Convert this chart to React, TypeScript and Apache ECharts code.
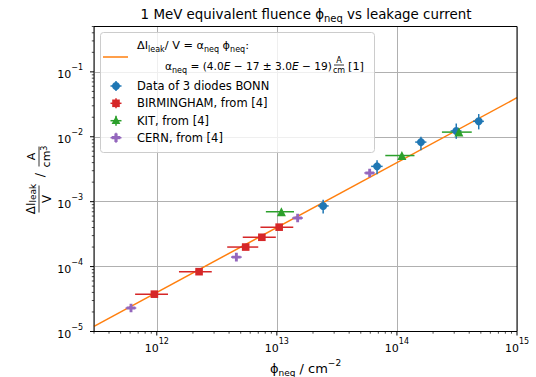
import React, { useEffect, useRef } from "react";
import * as echarts from "echarts";

const FONT = "DejaVu Sans";
const X_MIN = 3e11;
const X_MAX = 1e15;
const Y_MIN = 1e-5;
const Y_MAX = 0.5;

// fit line alpha_neq * phi (endpoints)
const fitX = [3e11, 1e15];
const fitY = [1.2e-5, 4.0e-2];

// Data of 3 diodes BONN
const bonnX = [2.43e13, 6.83e13, 1.585e14, 3.12e14, 4.8e14];
const bonnY = [8.6e-4, 3.5e-3, 8.28e-3, 1.23e-2, 1.73e-2];
const bonnXLo = [2.2e13, 6.1e13, 1.42e14, 2.8e14, 4.3e14];
const bonnXHi = [2.7e13, 7.6e13, 1.76e14, 3.45e14, 5.3e14];
const bonnYLo = [6.6e-4, 2.64e-3, 6.2e-3, 9.3e-3, 1.3e-2];
const bonnYHi = [1.07e-3, 4.35e-3, 1.0e-2, 1.6e-2, 2.24e-2];

// BIRMINGHAM
const birX = [9.55e11, 2.25e12, 5.5e12, 7.5e12, 1.045e13];
const birY = [3.76e-5, 8.35e-5, 2.0e-4, 2.83e-4, 4.05e-4];
const birXLo = [6.6e11, 1.53e12, 3.86e12, 5.2e12, 7.3e12];
const birXHi = [1.24e12, 2.87e12, 7.0e12, 9.8e12, 1.37e13];

// KIT
const kitX = [1.09e13, 1.1e14, 3.28e14];
const kitY = [7.0e-4, 5.14e-3, 1.18e-2];
const kitXLo = [8.1e12, 8.0e13, 2.37e14];
const kitXHi = [1.39e13, 1.4e14, 4.2e14];

// CERN
const cernX = [6.1e11, 4.6e12, 1.49e13, 5.93e13];
const cernY = [2.3e-5, 1.4e-4, 5.6e-4, 2.77e-3];
const cernXLo = [5.5e11, 4.15e12, 1.34e13, 5.35e13];
const cernXHi = [6.75e11, 5.1e12, 1.65e13, 6.55e13];
const cernYLo = [2.05e-5, 1.25e-4, 5.0e-4, 2.47e-3];
const cernYHi = [2.58e-5, 1.57e-4, 6.28e-4, 3.1e-3];

const C = {
  blue: "#1f77b4",
  orange: "#ff7f0e",
  green: "#2ca02c",
  red: "#d62728",
  purple: "#9467bd",
};

const PLUS = "path://M3,0H6V3H9V6H6V9H3V6H0V3H3Z";

function zip(a: number[], b: number[]) {
  return a.map((v, i) => [v, b[i]]);
}
function errRows(
  x: number[],
  y: number[],
  xlo?: number[],
  xhi?: number[],
  ylo?: number[],
  yhi?: number[]
) {
  return x.map((v, i) => [
    v,
    y[i],
    xlo ? xlo[i] : v,
    xhi ? xhi[i] : v,
    ylo ? ylo[i] : y[i],
    yhi ? yhi[i] : y[i],
  ]);
}

function errSeries(name: string, rows: number[][], color: string) {
  return {
    type: "custom",
    name,
    data: rows,
    encode: { x: 0, y: 1 },
    z: 3,
    silent: true,
    renderItem: (params: any, api: any) => {
      const x = api.value(0);
      const y = api.value(1);
      const xl = api.value(2);
      const xh = api.value(3);
      const yl = api.value(4);
      const yh = api.value(5);
      const children: any[] = [];
      if (xh > xl) {
        const a = api.coord([xl, y]);
        const b = api.coord([xh, y]);
        children.push({
          type: "line",
          shape: { x1: a[0], y1: a[1], x2: b[0], y2: b[1] },
          style: { stroke: color, lineWidth: 1.5 },
        });
      }
      if (yh > yl) {
        const a = api.coord([x, yl]);
        const b = api.coord([x, yh]);
        children.push({
          type: "line",
          shape: { x1: a[0], y1: a[1], x2: b[0], y2: b[1] },
          style: { stroke: color, lineWidth: 1.5 },
        });
      }
      return { type: "group", children };
    },
  };
}

function richFor(size: number) {
  const small = Math.round(size * 0.72);
  return {
    s: {
      fontSize: small,
      fontFamily: FONT,
      fill: "#000",
      color: "#000",
      verticalAlign: "bottom",
      lineHeight: small + 1,
    },
    p: {
      fontSize: small,
      fontFamily: FONT,
      fill: "#000",
      color: "#000",
      verticalAlign: "top",
      lineHeight: small + 1,
    },
    i: {
      fontSize: size,
      fontStyle: "italic",
      fontFamily: FONT,
      fill: "#000",
      color: "#000",
      lineHeight: size + 6,
    },
  };
}

function txt(x: number, y: number, text: string, size: number, align = "left", va = "middle", extra: any = {}) {
  return {
    type: "text",
    x,
    y,
    z: 101,
    silent: true,
    style: {
      text,
      fontFamily: FONT,
      fontSize: size,
      fill: "#000",
      align,
      verticalAlign: va,
      textAlign: align,
      textVerticalAlign: va,
      lineHeight: size + 6,
      rich: richFor(size),
      ...extra,
    },
  };
}

function hline(x1: number, x2: number, y: number, color: string, w = 1.5) {
  return {
    type: "line",
    z: 102,
    silent: true,
    shape: { x1, y1: y, x2, y2: y },
    style: { stroke: color, lineWidth: w },
  };
}
function vline(x: number, y1: number, y2: number, color: string, w = 1.5) {
  return {
    type: "line",
    z: 102,
    silent: true,
    shape: { x1: x, y1, x2: x, y2 },
    style: { stroke: color, lineWidth: w },
  };
}

function expLabel(v: number) {
  const e = Math.round(Math.log10(v));
  const s = e < 0 ? "\u2212" + Math.abs(e) : String(e);
  return "{b|10}{s|" + s + "}";
}

const tickRich = {
  b: { fontSize: 11, fontFamily: FONT, color: "#000", lineHeight: 16, verticalAlign: "bottom" },
  s: { fontSize: 8, fontFamily: FONT, color: "#000", lineHeight: 10, verticalAlign: "top" },
};

const decoSeries = {
  type: "custom",
  data: [[1e13, 1e-3]],
  encode: { x: 0, y: 1 },
  z: 10,
  silent: true,
  clip: false,
  renderItem: (params: any, api: any) => {
    const cs = params.coordSys;
    const L = cs.x;
    const T = cs.y;
    const B = cs.y + cs.height;
    const ch: any[] = [];
    ch.push({
      type: "rect",
      shape: { x: L, y: T, width: cs.width, height: cs.height },
      style: { fill: "none", stroke: "#000", lineWidth: 1 },
    });
    for (let e = 11; e <= 15; e++) {
      for (let k = 1; k <= 9; k++) {
        const v = k * Math.pow(10, e);
        if (v < X_MIN * 0.999 || v > X_MAX * 1.001) continue;
        const px = api.coord([v, 1e-3])[0];
        const len = k === 1 ? 4 : 2.2;
        ch.push({
          type: "line",
          shape: { x1: px, y1: B, x2: px, y2: B + len },
          style: { stroke: "#000", lineWidth: k === 1 ? 1 : 0.7 },
        });
      }
    }
    for (let e = -5; e <= 0; e++) {
      for (let k = 1; k <= 9; k++) {
        const v = k * Math.pow(10, e);
        if (v < Y_MIN * 0.999 || v > Y_MAX * 1.001) continue;
        const py = api.coord([1e13, v])[1];
        const len = k === 1 ? 4 : 2.2;
        ch.push({
          type: "line",
          shape: { x1: L, y1: py, x2: L - len, y2: py },
          style: { stroke: "#000", lineWidth: k === 1 ? 1 : 0.7 },
        });
      }
    }
    return { type: "group", children: ch };
  },
};

function legendGraphics() {
  const els: any[] = [];
  els.push({
    type: "rect",
    z: 100,
    silent: true,
    shape: { x: 100.5, y: 32.5, width: 274, height: 120, r: 3 },
    style: { fill: "rgba(255,255,255,0.8)", stroke: "#cccccc", lineWidth: 1 },
  });
  els.push(hline(103, 128, 57, C.orange, 1.5));
  els.push(txt(137, 45, "\u0394I{s|leak}/ V = \u03b1{s|neq} \u03d5{s|neq}:", 11.3));
  els.push(txt(165, 66, "\u03b1{s|neq} = (4.0{i|E} \u2212 17 \u00b1 3.0{i|E} \u2212 19)", 10.6));
  els.push(txt(339, 64.5, "A", 8, "center", "bottom", { lineHeight: 9 }));
  els.push(hline(334, 344, 65, "#000", 0.8));
  els.push(txt(339, 65.5, "cm", 8, "center", "top", { lineHeight: 9 }));
  els.push(txt(348, 66, "[1]", 11.3));

  const mx = 116;
  const rows = [
    { y: 86, color: C.blue, label: "Data of 3 diodes BONN", kind: "circle" },
    { y: 103.3, color: C.red, label: "BIRMINGHAM, from [4]", kind: "rect" },
    { y: 120.7, color: C.green, label: "KIT, from [4]", kind: "tri" },
    { y: 137.7, color: C.purple, label: "CERN, from [4]", kind: "plus" },
  ];
  rows.forEach((r) => {
    els.push(hline(mx - 5.5, mx + 5.5, r.y, r.color));
    els.push(vline(mx, r.y - 5, r.y + 5, r.color));
    if (r.kind === "circle") {
      els.push({ type: "circle", z: 103, silent: true, shape: { cx: mx, cy: r.y, r: 4 }, style: { fill: r.color } });
    } else if (r.kind === "rect") {
      els.push({ type: "rect", z: 103, silent: true, shape: { x: mx - 3.8, y: r.y - 3.8, width: 7.6, height: 7.6 }, style: { fill: r.color } });
    } else if (r.kind === "tri") {
      els.push({
        type: "polygon",
        z: 103,
        silent: true,
        shape: { points: [[mx, r.y - 4.6], [mx + 4.4, r.y + 3.4], [mx - 4.4, r.y + 3.4]] },
        style: { fill: r.color },
      });
    } else {
      const o = 4.3;
      const t = 1.6;
      els.push({
        type: "polygon",
        z: 103,
        silent: true,
        shape: {
          points: [
            [mx - t, r.y - o], [mx + t, r.y - o], [mx + t, r.y - t], [mx + o, r.y - t],
            [mx + o, r.y + t], [mx + t, r.y + t], [mx + t, r.y + o], [mx - t, r.y + o],
            [mx - t, r.y + t], [mx - o, r.y + t], [mx - o, r.y - t], [mx - t, r.y - t],
          ],
        },
        style: { fill: r.color },
      });
    }
    els.push(txt(137, r.y, r.label, 11.5));
  });
  return els;
}

function yLabelGraphic() {
  const ch: any[] = [];
  const t = (x: number, y: number, text: string, size: number, va: string) => {
    const el: any = txt(x, y, text, size, "center", va, { lineHeight: size + 2 });
    el.z = 50;
    return el;
  };
  ch.push(t(-19.5, -1, "\u0394I{s|leak}", 12, "bottom"));
  ch.push({ type: "line", z: 50, shape: { x1: -33, y1: 0.5, x2: -6, y2: 0.5 }, style: { stroke: "#000", lineWidth: 0.8 } });
  ch.push(t(-19.5, 1.5, "V", 12, "top"));
  ch.push(t(4.5, 0.5, "/", 13, "middle"));
  ch.push(t(23, -1, "A", 11, "bottom"));
  ch.push({ type: "line", z: 50, shape: { x1: 13, y1: 0.5, x2: 33, y2: 0.5 }, style: { stroke: "#000", lineWidth: 0.8 } });
  ch.push(t(23, 1.5, "cm{p|3}", 11, "top"));
  return {
    type: "group",
    x: 38.5,
    y: 179.5,
    rotation: Math.PI / 2,
    silent: true,
    children: ch,
  };
}

export default function App() {
  const ref = useRef<HTMLDivElement>(null);
  useEffect(() => {
    document.body.style.margin = "0";
    if (!ref.current) return;
    const chart = echarts.init(ref.current, undefined, { renderer: "svg" });
    const option: any = {
      animation: false,
      backgroundColor: "#ffffff",
      grid: { left: 94, right: 19, top: 26.5, bottom: 45.5, containLabel: false },
      xAxis: {
        type: "log",
        logBase: 10,
        min: X_MIN,
        max: X_MAX,
        axisLine: { show: false },
        axisTick: { show: false },
        splitLine: { show: true, lineStyle: { color: "#b0b0b0", width: 1 } },
        axisLabel: {
          showMinLabel: false,
          margin: 6,
          formatter: (v: number) => expLabel(v),
          rich: tickRich,
        },
      },
      yAxis: {
        type: "log",
        logBase: 10,
        min: Y_MIN,
        max: Y_MAX,
        axisLine: { show: false },
        axisTick: { show: false },
        splitLine: { show: true, lineStyle: { color: "#b0b0b0", width: 1 } },
        axisLabel: {
          showMaxLabel: false,
          margin: 11,
          formatter: (v: number) => expLabel(v),
          rich: tickRich,
        },
      },
      series: [
        {
          type: "line",
          name: "fit",
          data: zip(fitX, fitY),
          showSymbol: false,
          symbol: "none",
          lineStyle: { color: C.orange, width: 1.5 },
          z: 2,
          silent: true,
        },
        errSeries("bonnErr", errRows(bonnX, bonnY, bonnXLo, bonnXHi, bonnYLo, bonnYHi), C.blue),
        errSeries("birErr", errRows(birX, birY, birXLo, birXHi), C.red),
        errSeries("kitErr", errRows(kitX, kitY, kitXLo, kitXHi), C.green),
        errSeries("cernErr", errRows(cernX, cernY, cernXLo, cernXHi, cernYLo, cernYHi), C.purple),
        {
          type: "scatter",
          name: "Data of 3 diodes BONN",
          data: zip(bonnX, bonnY),
          symbol: "circle",
          symbolSize: 8,
          itemStyle: { color: C.blue, opacity: 1 },
          z: 4,
          silent: true,
        },
        {
          type: "scatter",
          name: "BIRMINGHAM, from [4]",
          data: zip(birX, birY),
          symbol: "rect",
          symbolSize: 7.6,
          itemStyle: { color: C.red, opacity: 1 },
          z: 4,
          silent: true,
        },
        {
          type: "scatter",
          name: "KIT, from [4]",
          data: zip(kitX, kitY),
          symbol: "triangle",
          symbolSize: 9,
          itemStyle: { color: C.green, opacity: 1 },
          z: 4,
          silent: true,
        },
        {
          type: "scatter",
          name: "CERN, from [4]",
          data: zip(cernX, cernY),
          symbol: PLUS,
          symbolSize: 8.6,
          itemStyle: { color: C.purple, opacity: 1 },
          z: 4,
          silent: true,
        },
        decoSeries,
      ],
      graphic: {
        elements: [
          txt(306, 14, "1 MeV equivalent fluence \u03d5{s|neq} vs leakage current", 13.4, "center", "middle"),
          txt(305.5, 368, "\u03d5{s|neq} / cm{p|\u22122}", 13, "center", "middle"),
          yLabelGraphic(),
          ...legendGraphics(),
        ],
      },
    };
    chart.setOption(option);
    return () => chart.dispose();
  }, []);
  return <div ref={ref} style={{ width: 536, height: 377 }} />;
}
